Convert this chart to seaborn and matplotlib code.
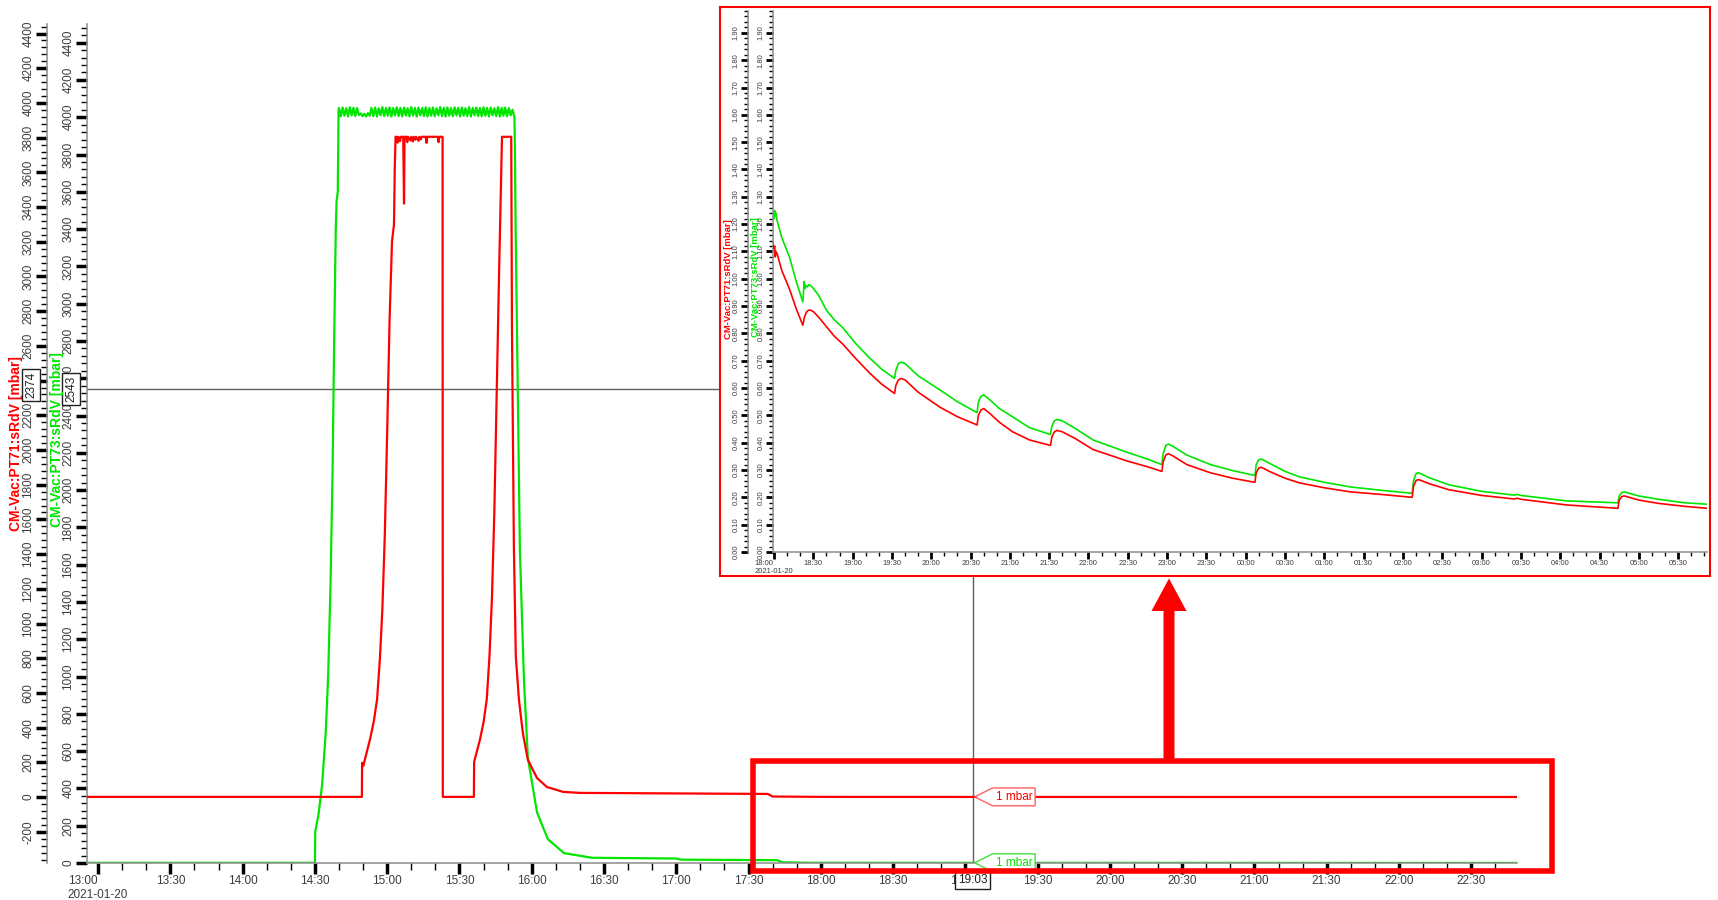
import seaborn as sns
import matplotlib.pyplot as plt
import matplotlib.dates as mdates
import matplotlib.ticker as mticker
from matplotlib.patches import Rectangle, Polygon
from matplotlib.path import Path
from matplotlib.transforms import blended_transform_factory
import pandas as pd

sns.set_style('ticks')
plt.rcParams['font.family'] = ['Liberation Sans', 'DejaVu Sans']

RED = '#ff0000'
GREEN = '#00e600'
GREY = '#8c8c8c'
TXT = '#3c3c3c'

# ---- afternoon of 2021-01-20, main trend (mbar) ----
red_t = ['12:55:24', '14:49:30', '14:49:36', '14:50:06', '14:51:30', '14:53:00', '14:54:30',
         '14:55:48', '14:57:00', '14:58:00', '14:59:00', '15:00:00', '15:01:00', '15:02:00',
         '15:02:50', '15:03:10', '15:03:30',
         '15:04:00', '15:04:20', '15:04:40', '15:05:20', '15:05:40', '15:06:40', '15:07:00',
         '15:07:12', '15:08:00', '15:08:20', '15:08:40', '15:09:40', '15:10:00', '15:10:40',
         '15:11:00', '15:11:40', '15:12:00', '15:13:00', '15:13:20', '15:14:00', '15:14:20',
         '15:16:00', '15:16:20', '15:16:40', '15:21:00', '15:21:20', '15:21:40', '15:23:00',
         '15:23:06', '15:36:00', '15:36:06', '15:37:00', '15:38:30', '15:40:00', '15:41:20',
         '15:42:30', '15:43:30', '15:44:30', '15:45:30', '15:46:30', '15:47:10', '15:47:20',
         '15:47:40', '15:51:30', '15:51:48', '15:52:36', '15:53:24', '15:54:42', '15:56:18',
         '15:58:24', '16:02:12', '16:06:18', '16:13:00', '16:20:00', '17:00:00', '17:38:00',
         '17:40:00', '17:55:00']
red_v = [1, 1, 197, 180, 258, 340, 440,
         562, 800, 1080, 1500, 2100, 2750, 3200,
         3300, 3640, 3805,
         3805, 3772, 3805, 3780, 3805, 3805, 3420,
         3805, 3805, 3774, 3805, 3784, 3805, 3778,
         3805, 3788, 3805, 3782, 3805, 3790, 3805,
         3805, 3770, 3805, 3805, 3774, 3805, 3805,
         1, 1, 203, 250, 330, 430, 562,
         820, 1150, 1650, 2350, 3050, 3480, 3560,
         3805, 3805, 2713, 1443, 810, 562, 371,
         214, 110, 58, 30, 24, 21, 18,
         3, 1.2]

green_rise_t = ['12:55:24', '14:30:00', '14:30:10', '14:31:30', '14:33:00', '14:34:30', '14:35:30',
                '14:36:30', '14:37:20', '14:38:00', '14:38:40', '14:39:00', '14:39:30', '14:39:50']
green_rise_v = [1, 1, 170, 260, 420, 700, 1000,
                1500, 2100, 2800, 3400, 3550, 3600, 4040]

# noisy full-scale band while venting
green_band_t = ['14:40:00', '14:40:45', '14:41:30', '14:42:15', '14:43:00', '14:43:45', '14:44:30', '14:45:15', '14:46:00', '14:46:45',
                '14:47:30', '14:48:15', '14:49:00', '14:49:45', '14:50:30', '14:51:15', '14:52:00', '14:52:45', '14:53:30', '14:54:15',
                '14:55:00', '14:55:45', '14:56:30', '14:57:15', '14:58:00', '14:58:45', '14:59:30', '15:00:15', '15:01:00', '15:01:45',
                '15:02:30', '15:03:15', '15:04:00', '15:04:45', '15:05:30', '15:06:15', '15:07:00', '15:07:45', '15:08:30', '15:09:15',
                '15:10:00', '15:10:45', '15:11:30', '15:12:15', '15:13:00', '15:13:45', '15:14:30', '15:15:15', '15:16:00', '15:16:45',
                '15:17:30', '15:18:15', '15:19:00', '15:19:45', '15:20:30', '15:21:15', '15:22:00', '15:22:45', '15:23:30', '15:24:15',
                '15:25:00', '15:25:45', '15:26:30', '15:27:15', '15:28:00', '15:28:45', '15:29:30', '15:30:15', '15:31:00', '15:31:45',
                '15:32:30', '15:33:15', '15:34:00', '15:34:45', '15:35:30', '15:36:15', '15:37:00', '15:37:45', '15:38:30', '15:39:15',
                '15:40:00', '15:40:45', '15:41:30', '15:42:15', '15:43:00', '15:43:45', '15:44:30', '15:45:15', '15:46:00', '15:46:45',
                '15:47:30', '15:48:15', '15:49:00', '15:49:45', '15:50:30', '15:51:15', '15:52:00']
green_band_v = [4050, 4005, 4052, 4008, 4048, 4004, 4053, 4010, 4050, 4006,
                4049, 4012, 4020, 4006, 4018, 4004, 4022, 4008, 4050, 4006,
                4052, 4004, 4048, 4010, 4054, 4006, 4050, 4008, 4052, 4004,
                4049, 4010, 4053, 4006, 4050, 4004, 4052, 4009, 4048, 4005,
                4054, 4008, 4050, 4004, 4052, 4010, 4049, 4006, 4053, 4004,
                4050, 4008, 4052, 4005, 4048, 4010, 4054, 4006, 4050, 4004,
                4052, 4008, 4049, 4005, 4053, 4010, 4050, 4004, 4052, 4008,
                4048, 4006, 4054, 4004, 4050, 4010, 4052, 4006, 4049, 4005,
                4053, 4008, 4050, 4004, 4052, 4010, 4048, 4006, 4054, 4004,
                4050, 4008, 4052, 4005, 4049, 4010, 4040]

green_fall_t = ['15:52:50', '15:53:00', '15:53:20', '15:53:54', '15:55:06', '15:56:48', '15:58:24',
                '16:02:12', '16:06:42', '16:13:24', '16:25:00', '17:00:00', '17:02:00', '17:42:00',
                '17:44:00', '17:55:00']
green_fall_v = [4000, 3850, 3400, 2840, 1675, 975, 565,
                272, 128, 53, 28, 24, 18, 15,
                4, 1.3]

# ---- the night after (inset), same gauges ----
night_t = ['18:00:00', '18:00:30', '18:01:00', '18:01:30', '18:02:30', '18:06:00', '18:12:00', '18:17:00', '18:22:00',
           '18:22:40', '18:23:00', '18:23:40', '18:24:30', '18:25:30', '18:26:30', '18:28:00', '18:30:00', '18:34:00',
           '18:40:00', '18:46:00', '18:52:40', '19:02:00', '19:13:00', '19:22:00', '19:32:00', '19:33:00', '19:35:00',
           '19:37:00', '19:40:00', '19:50:00', '20:06:40', '20:20:00', '20:35:00', '20:36:00', '20:38:00', '20:40:00',
           '20:44:00', '20:52:00', '21:02:00', '21:15:00', '21:31:00', '21:32:00', '21:34:00', '21:36:00', '21:40:00',
           '21:50:00', '22:03:30', '22:29:30', '22:45:00', '22:56:00', '22:57:00', '22:59:00', '23:01:00', '23:05:00',
           '23:15:00', '23:33:00', '23:50:00', '00:07:00', '00:08:00', '00:10:00', '00:12:00', '00:18:00', '00:30:00',
           '00:41:00', '01:00:00', '01:20:00', '01:45:00', '02:07:00', '02:08:00', '02:10:00', '02:12:00', '02:20:00',
           '02:35:00', '03:00:00', '03:25:00', '03:27:00', '03:30:00', '04:05:00', '04:44:00', '04:45:00', '04:47:00',
           '04:49:00', '05:00:00', '05:15:00', '05:35:00', '05:52:00']
night_red = [1.11, 1.12, 1.08, 1.10, 1.09, 1.03, 0.96, 0.89, 0.83,
             0.845, 0.855, 0.865, 0.875, 0.882, 0.885, 0.885, 0.88, 0.86,
             0.825, 0.79, 0.76, 0.71, 0.655, 0.615, 0.58, 0.61, 0.63,
             0.635, 0.63, 0.585, 0.53, 0.495, 0.465, 0.50, 0.52, 0.525,
             0.51, 0.475, 0.44, 0.41, 0.39, 0.42, 0.44, 0.445, 0.44,
             0.415, 0.375, 0.333, 0.312, 0.295, 0.33, 0.355, 0.36, 0.35,
             0.32, 0.29, 0.27, 0.255, 0.29, 0.308, 0.31, 0.295, 0.27,
             0.253, 0.235, 0.22, 0.21, 0.20, 0.24, 0.262, 0.265, 0.25,
             0.228, 0.207, 0.194, 0.197, 0.193, 0.172, 0.16, 0.19, 0.203,
             0.205, 0.19, 0.178, 0.167, 0.16]
night_green = [1.22, 1.25, 1.23, 1.24, 1.21, 1.15, 1.077, 0.99, 0.915,
               0.96, 0.99, 0.965, 0.975, 0.97, 0.978, 0.975, 0.965, 0.94,
               0.885, 0.85, 0.82, 0.765, 0.71, 0.67, 0.635, 0.665, 0.69,
               0.695, 0.69, 0.645, 0.593, 0.55, 0.51, 0.55, 0.57, 0.575,
               0.56, 0.525, 0.495, 0.455, 0.43, 0.46, 0.48, 0.485, 0.48,
               0.452, 0.41, 0.365, 0.34, 0.32, 0.36, 0.39, 0.395, 0.385,
               0.355, 0.32, 0.298, 0.28, 0.32, 0.338, 0.34, 0.325, 0.295,
               0.275, 0.255, 0.238, 0.225, 0.215, 0.26, 0.287, 0.29, 0.272,
               0.246, 0.222, 0.208, 0.211, 0.207, 0.187, 0.18, 0.205, 0.218,
               0.22, 0.205, 0.193, 0.18, 0.175]

red_name = 'CM-Vac:PT71:sRdV [mbar]'
green_name = 'CM-Vac:PT73:sRdV [mbar]'
cursor_time = '19:03:00'
cursor_red = 2374
cursor_green = 2543


def stamp(hhmm):
    # hours before noon belong to the next morning
    day = '2021-01-21' if hhmm < '12:00' else '2021-01-20'
    return pd.Timestamp(day + ' ' + hhmm)


def frame(times, values):
    return pd.DataFrame({'time': [stamp(t) for t in times], 'value': values})


red_df = pd.concat([frame(red_t, red_v), frame(night_t, night_red)], ignore_index=True)
green_df = pd.concat([frame(green_rise_t, green_rise_v), frame(green_band_t, green_band_v),
                      frame(green_fall_t, green_fall_v), frame(night_t, night_green)],
                     ignore_index=True)

W, H = 1718, 900
fig = plt.figure(figsize=(W / 100, H / 100), dpi=100)


def box(x0, y0, x1, y1):
    # pixel box (top-left origin) -> figure fraction rect
    return [x0 / W, 1 - y1 / H, (x1 - x0) / W, (y1 - y0) / H]


def time_formatter(first_hour):
    def fmt(x, pos):
        d = mdates.num2date(x)
        s = d.strftime('%H:%M')
        if d.hour == first_hour and d.minute == 0:
            s += '\n2021-01-20'
        return s
    return mticker.FuncFormatter(fmt)


def tag_box(x0, y0, width, height, mutation_size):
    pad = mutation_size * 0.25
    x0, y0 = x0 - pad, y0 - pad
    x1, y1 = x0 + width + 2 * pad, y0 + height + 2 * pad
    tip = y1 - y0
    verts = [(x0, y0), (x1, y0), (x1, y1), (x0, y1), (x0 - tip, (y0 + y1) / 2), (x0, y0)]
    return Path(verts, closed=True)


def style_pair(a_g, a_r, offset_px, fsize, tick_len, tick_w, yfmt):
    for a in (a_g, a_r):
        for s in ('top', 'right'):
            a.spines[s].set_visible(False)
        a.spines['left'].set_color(GREY)
        a.spines['left'].set_linewidth(1.1)
        a.set_xlabel('')
        a.set_ylabel('')
        a.tick_params(axis='y', which='major', direction='out', length=tick_len, width=tick_w,
                      color='black', labelsize=fsize, labelcolor=TXT, labelrotation=90, pad=1)
        a.tick_params(axis='y', which='minor', direction='out', length=tick_len * 0.55,
                      width=1, color='black')
        a.yaxis.set_major_formatter(yfmt)
    a_g.spines['bottom'].set_color(GREY)
    a_g.spines['bottom'].set_linewidth(1.1)
    a_r.spines['bottom'].set_visible(False)
    a_r.spines['left'].set_visible(True)
    a_r.spines['left'].set_position(('outward', offset_px * 0.72))
    a_r.yaxis.set_ticks_position('left')
    a_g.tick_params(axis='x', which='major', direction='out', length=tick_len, width=tick_w,
                    color='black', labelsize=fsize, labelcolor=TXT, pad=1)
    a_g.tick_params(axis='x', which='minor', direction='out', length=tick_len * 0.6,
                    width=1, color='black')
    a_g.xaxis.set_major_locator(mdates.MinuteLocator(byminute=[0, 30]))
    a_g.xaxis.set_minor_locator(mdates.MinuteLocator(byminute=[10, 20, 40, 50]))


# ---------------- main chart ----------------
ax = fig.add_axes(box(87, 24, 1517, 863))
ax_r = ax.twinx()
sns.lineplot(data=green_df, x='time', y='value', ax=ax, color=GREEN, lw=1.6,
             estimator=None, sort=False)
sns.lineplot(data=red_df, x='time', y='value', ax=ax_r, color=RED, lw=1.6,
             estimator=None, sort=False)
ax.set_xlim(stamp('12:55:24'), stamp('22:49:00'))
ax.set_ylim(0, 4500)
ax_r.set_ylim(-380, 4455)
for a in (ax, ax_r):
    a.yaxis.set_major_locator(mticker.MultipleLocator(200))
    a.yaxis.set_minor_locator(mticker.MultipleLocator(40))
style_pair(ax, ax_r, 40, 8.5, 8, 2.5, mticker.FormatStrFormatter('%d'))
ax.xaxis.set_major_formatter(time_formatter(13))

cur = stamp(cursor_time)
ax.axvline(cur, color='#606060', lw=1, zorder=1)
ax.axhline(cursor_green, color='#606060', lw=1, zorder=1)
ax_r.annotate('1 mbar', xy=(cur, 1), xytext=(23, 0), textcoords='offset pixels',
              ha='left', va='center', color=RED, fontsize=8.5, zorder=6,
              bbox=dict(boxstyle=tag_box, fc='white', ec='#ff6060', lw=1))
ax.annotate('1 mbar', xy=(cur, 1), xytext=(23, 0), textcoords='offset pixels',
            ha='left', va='center', color=GREEN, fontsize=8.5, zorder=6,
            bbox=dict(boxstyle=tag_box, fc='white', ec='#40e040', lw=1))

value_box = dict(boxstyle='square,pad=0.25', fc='white', ec='#202020', lw=1)
ax_r.text(31 / W, cursor_red, str(cursor_red), rotation=90, ha='center', va='center',
          fontsize=8.5, color='#202020', bbox=value_box, zorder=6,
          transform=blended_transform_factory(fig.transFigure, ax_r.transData))
ax.text(71 / W, cursor_green, str(cursor_green), rotation=90, ha='center', va='center',
        fontsize=8.5, color='#202020', bbox=value_box, zorder=6,
        transform=blended_transform_factory(fig.transFigure, ax.transData))
ax.text(cur, 1 - 880 / H, '19:03', ha='center', va='center', fontsize=8.5,
        color='#202020', bbox=value_box, zorder=6,
        transform=blended_transform_factory(ax.transData, fig.transFigure))

fig.text(16 / W, 1 - 444 / H, red_name, rotation=90, ha='center', va='center',
         color=RED, fontsize=10, fontweight='bold')
fig.text(57 / W, 1 - 440 / H, green_name, rotation=90, ha='center', va='center',
         color=GREEN, fontsize=10, fontweight='bold')

# ---------------- inset (night) ----------------
frame_ax = fig.add_axes(box(720, 7, 1710, 576))
frame_ax.set_xticks([])
frame_ax.set_yticks([])
for s in frame_ax.spines.values():
    s.set_color(RED)
    s.set_linewidth(1.5)

ax_in = fig.add_axes(box(773, 11, 1707, 552))
ax_in_r = ax_in.twinx()
sns.lineplot(data=green_df, x='time', y='value', ax=ax_in, color=GREEN, lw=1.2,
             estimator=None, sort=False)
sns.lineplot(data=red_df, x='time', y='value', ax=ax_in_r, color=RED, lw=1.2,
             estimator=None, sort=False)
ax_in.set_xlim(stamp('17:59:15'), stamp('05:52:00'))
for a in (ax_in, ax_in_r):
    a.set_ylim(0, 1.98)
    a.yaxis.set_major_locator(mticker.MultipleLocator(0.1))
    a.yaxis.set_minor_locator(mticker.MultipleLocator(0.02))
style_pair(ax_in, ax_in_r, 25, 5.5, 5, 2, mticker.FormatStrFormatter('%.2f'))
ax_in.xaxis.set_major_formatter(time_formatter(18))

fig.text(728.6 / W, 1 - 279 / H, red_name, rotation=90, ha='center', va='center',
         color=RED, fontsize=6.8, fontweight='bold')
fig.text(755 / W, 1 - 277 / H, green_name, rotation=90, ha='center', va='center',
         color=GREEN, fontsize=6.8, fontweight='bold')

# ---------------- highlight box and arrow ----------------
fig.add_artist(Rectangle((753 / W, 1 - 871 / H), (1552 - 753) / W, (871 - 760.5) / H,
                         fill=False, ec=RED, lw=4, transform=fig.transFigure))
arrow_px = [(1163.5, 762), (1163.5, 611), (1151.5, 611), (1169, 578.5),
            (1186.5, 611), (1174.5, 611), (1174.5, 762)]
fig.add_artist(Polygon([(x / W, 1 - y / H) for x, y in arrow_px], closed=True,
                       fc=RED, ec='none', transform=fig.transFigure))

fig.canvas.draw()
for a in (ax, ax_in):
    for lab in a.get_xticklabels():
        lab.set_multialignment('left')
    for t in a.get_yticklabels():
        t.set_verticalalignment('center')
for a in (ax_r, ax_in_r):
    for t in a.get_yticklabels():
        t.set_verticalalignment('center')

fig.savefig('out.png', dpi=100)
